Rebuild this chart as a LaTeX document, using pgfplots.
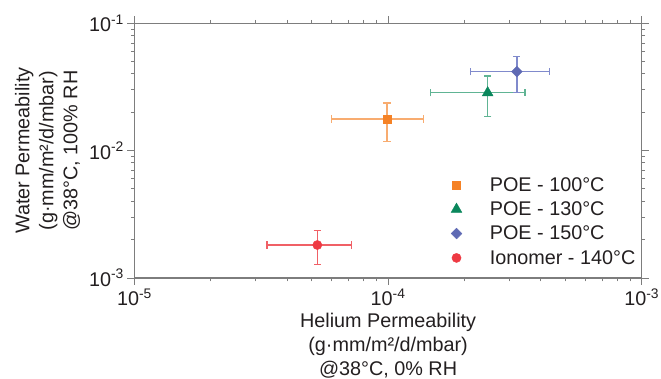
\documentclass[border=0pt]{standalone}
\usepackage{pgfplots}
\pgfplotsset{compat=1.18}
\usepackage{fontspec}
\setmainfont{Liberation Sans}
\definecolor{cOr}{RGB}{245,130,38}
\definecolor{cOrL}{RGB}{248,172,112}
\definecolor{cGr}{RGB}{10,135,92}
\definecolor{cGrL}{RGB}{96,180,148}
\definecolor{cBl}{RGB}{95,106,180}
\definecolor{cBlL}{RGB}{128,138,204}
\definecolor{cRd}{RGB}{238,58,67}
\definecolor{cRdL}{RGB}{240,96,102}
\definecolor{axgray}{RGB}{125,125,125}
\definecolor{txt}{RGB}{35,31,32}
\newcommand{\fnt}{\fontsize{19.8}{24}\selectfont}
\begin{document}
\begin{tikzpicture}
\begin{axis}[
  scale only axis, width=507.2pt, height=254.7pt,
  xmode=log, ymode=log,
  xmin=1e-5, xmax=1e-3, ymin=1e-3, ymax=1e-1,
  xtick={1e-5,1e-4,1e-3},
  xticklabels={10\textsuperscript{-5},10\textsuperscript{-4},10\textsuperscript{-3}},
  ytick={1e-3,1e-2,1e-1},
  yticklabels={10\textsuperscript{-3},10\textsuperscript{-2},10\textsuperscript{-1}},
  tick align=outside, major tick length=7pt, minor tick length=3.5pt,
  axis line style={draw=axgray, line width=1.2pt},
  tick style={draw=axgray, line width=1pt},
  tick label style={font=\fnt, text=txt},
  label style={font=\fnt, text=txt, align=center},
  xlabel={Helium Permeability\\(g·mm/m²/d/mbar)\\@38°C, 0\% RH},
  ylabel={Water Permeability\\(g·mm/m²/d/mbar)\\@38°C, 100\% RH},
  ylabel style={xshift=0pt, yshift=2pt},
  legend style={draw=none, fill=none, font=\fnt, text=txt,
    at={(0.618,0.412)}, anchor=north west, row sep=5pt,
    /tikz/every odd column/.append style={column sep=26pt}},
  legend cell align=left,
  error bars/error bar style={line width=1.3pt},
]
\addplot[color=cOr, only marks, mark=square*, mark size=3.9pt,
  error bars/.cd, x dir=both, x explicit, y dir=both, y explicit,
  error bar style={cOrL}, error mark options={rotate=90, cOrL, mark size=3.6pt, line width=1.3pt}]
  coordinates {(0.99e-4,0.01772) +- (0.39e-4,0.0059)};
\addlegendentry{POE - 100°C}
\addplot[color=cGr, only marks, mark=triangle*, mark size=6.2pt,
  error bars/.cd, x dir=both, x explicit, y dir=both, y explicit,
  error bar style={cGrL}, error mark options={rotate=90, cGrL, mark size=3.6pt, line width=1.3pt}]
  coordinates {(2.47e-4,0.0285) +- (1.0e-4,0.0100)};
\addlegendentry{POE - 130°C}
\addplot[color=cBl, only marks, mark=square*, mark size=3.8pt, mark options={rotate=45},
  error bars/.cd, x dir=both, x explicit, y dir=both, y explicit,
  error bar style={cBlL}, error mark options={rotate=90, cBlL, mark size=3.6pt, line width=1.3pt}]
  coordinates {(3.22e-4,0.0417) +- (1.1e-4,0.0132)};
\addlegendentry{POE - 150°C}
\addplot[color=cRd, only marks, mark=*, mark size=4.6pt,
  error bars/.cd, x dir=both, x explicit, y dir=both, y explicit,
  error bar style={cRdL}, error mark options={rotate=90, cRdL, mark size=3.6pt, line width=1.3pt}]
  coordinates {(5.26e-5,0.001816) +- (1.93e-5,0.000545)};
\addlegendentry{Ionomer - 140°C}
\end{axis}
\pgfresetboundingbox
\useasboundingbox ([shift={(-134.5pt,-100pt)}]current axis.south west) rectangle ([shift={(526.5pt,278pt)}]current axis.south west);
\end{tikzpicture}
\end{document}
